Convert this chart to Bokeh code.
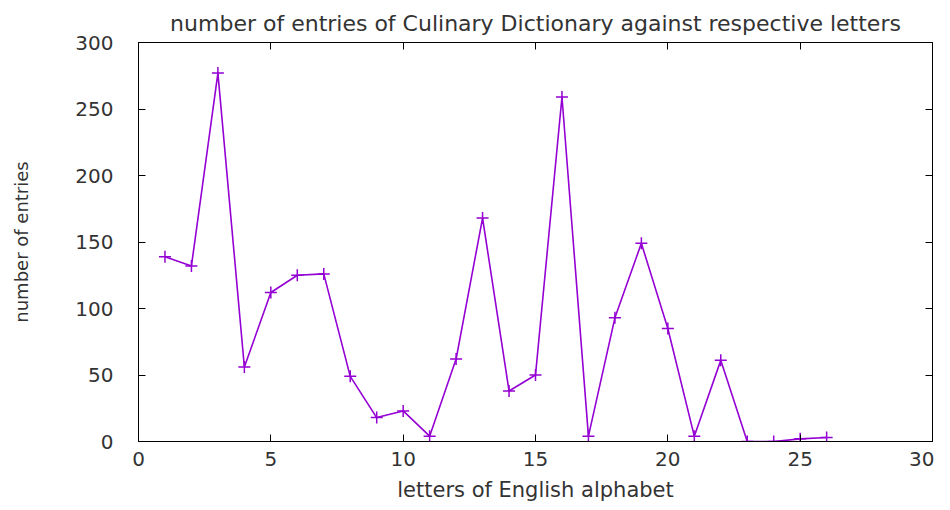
from bokeh.plotting import figure
from bokeh.models import LinearAxis, Range1d, FixedTicker
from bokeh.embed import file_html
from bokeh.resources import INLINE

letters = list(range(1, 27))
entries = [139, 132, 277, 56, 112, 125, 126, 49, 18, 23, 4, 62, 168, 38, 50,
           259, 4, 93, 149, 85, 4, 61, 0, 0, 2, 3]
x_ticks = [0, 5, 10, 15, 20, 25, 30]
y_ticks = [0, 50, 100, 150, 200, 250, 300]
title_text = "number of entries of Culinary Dictionary against respective letters"

TXT = "#333333"
FONT = "DejaVu Sans"
COL = "#9400D3"

p = figure(width=934, height=507, output_backend="svg", toolbar_location=None,
           x_range=Range1d(0, 30), y_range=Range1d(0, 300),
           min_border_left=138, min_border_right=2, min_border_top=42, min_border_bottom=66,
           title=title_text)
p.title.text_font = FONT
p.title.text_font_size = "22px"
p.title.text_font_style = "normal"
p.title.text_color = TXT
p.title.align = "center"
p.title.standoff = 14

p.grid.visible = False
p.outline_line_color = "black"
p.outline_line_width = 1

for ax, ticks in ((p.xaxis[0], x_ticks), (p.yaxis[0], y_ticks)):
    ax.ticker = FixedTicker(ticks=ticks)
    ax.major_tick_in = 7
    ax.major_tick_out = 0
    ax.minor_tick_line_color = None
    ax.axis_line_color = "black"
    ax.major_tick_line_color = "black"
    ax.major_label_text_font = FONT
    ax.major_label_text_font_size = "20px"
    ax.major_label_text_color = TXT
    ax.axis_label_text_font = FONT
    ax.axis_label_text_font_style = "normal"
    ax.axis_label_text_color = TXT

p.xaxis[0].axis_label = "letters of English alphabet"
p.yaxis[0].axis_label = "number of entries"
p.xaxis[0].axis_label_text_font_size = "21px"
p.yaxis[0].axis_label_text_font_size = "18px"
p.xaxis[0].major_label_standoff = 10
p.yaxis[0].major_label_standoff = 25
p.xaxis[0].axis_label_standoff = 9
p.yaxis[0].axis_label_standoff = 40

for loc, ticks in (("above", x_ticks), ("right", y_ticks)):
    ax = LinearAxis(ticker=FixedTicker(ticks=ticks), major_tick_in=7, major_tick_out=0,
                    minor_tick_line_color=None, axis_line_color="black",
                    major_label_overrides={t: "" for t in ticks},
                    major_label_standoff=0)
    p.add_layout(ax, loc)

p.line(letters, entries, line_color=COL, line_width=1.6)
p.scatter(letters, entries, marker="cross", size=12, line_color=COL, line_width=1.5)

open("out.html", "w").write(file_html(p, INLINE))
